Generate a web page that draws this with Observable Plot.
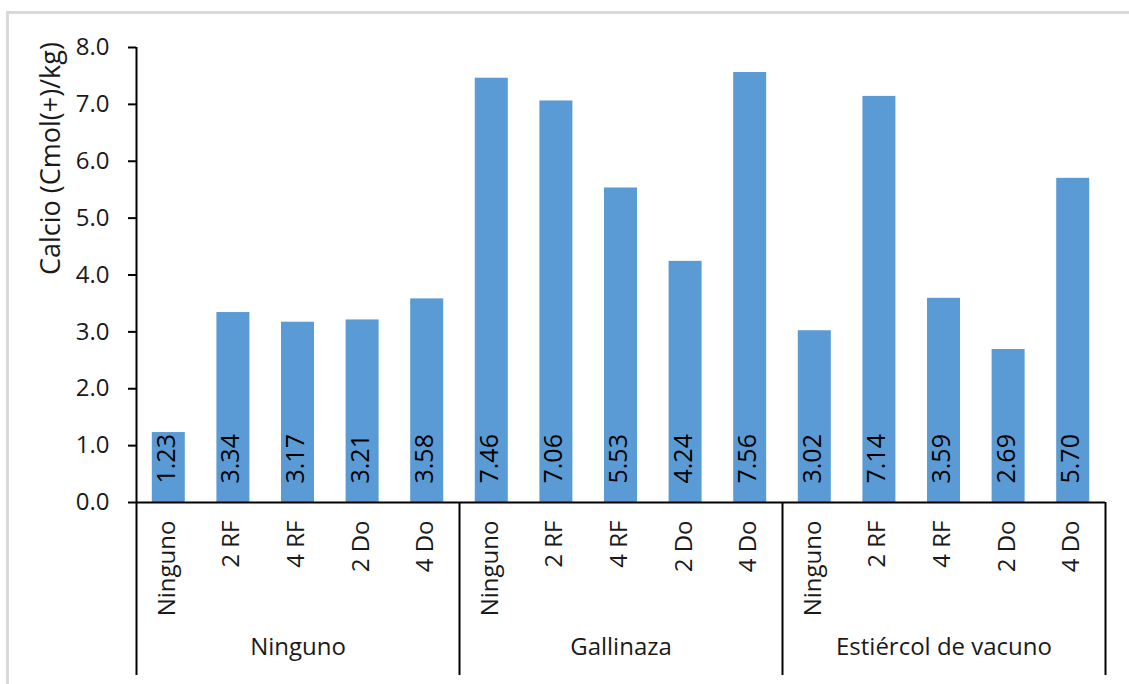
<!DOCTYPE html>
<html>
<head>
<meta charset="utf-8">
<script src="https://cdn.jsdelivr.net/npm/d3@7"></script>
<script src="https://cdn.jsdelivr.net/npm/@observablehq/plot@0.6"></script>
<style>
  html, body { margin: 0; padding: 0; background: #fff; overflow: hidden; }
  body { width: 1129px; height: 684px; position: relative; }
  .border { position: absolute; left: 6px; top: 11px; right: -10px; bottom: -10px;
            border-top: 3px solid #d9d9d9; border-left: 3px solid #d9d9d9; }
  #chart { position: absolute; left: 0; top: 0; }
</style>
</head>
<body>
<div class="border"></div>
<div id="chart"></div>
<script>
// Abono orgánico (outer categories) and treatment (inner categories)
const groups = ["Ninguno", "Gallinaza", "Estiércol de vacuno"];
const treatments = ["Ninguno", "2 RF", "4 RF", "2 Do", "4 Do"];

// Calcio, Cmol(+)/kg, per treatment within each group
const valuesNinguno = [1.23, 3.34, 3.17, 3.21, 3.58];
const valuesGallinaza = [7.46, 7.06, 5.53, 4.24, 7.56];
const valuesVacuno = [3.02, 7.14, 3.59, 2.69, 5.70];

const yTicks = [0, 1, 2, 3, 4, 5, 6, 7, 8];
const yLabel = "Calcio (Cmol(+)/kg)";

const seriesByGroup = [valuesNinguno, valuesGallinaza, valuesVacuno];
const nT = treatments.length;

// one row per column, positioned by its slot index along x
const rows = groups.flatMap((g, gi) =>
  treatments.map((t, ti) => ({group: g, treatment: t, value: seriesByGroup[gi][ti], i: gi * nT + ti}))
);
const groupRows = groups.map((g, gi) => ({group: g, start: gi * nT}));
const boundaries = d3.range(0, groups.length * nT + 1, nT);

const fmt = d3.format(".2f");
const ink = "#1a1a1a";

const chart = Plot.plot({
  width: 1129,
  height: 684,
  marginLeft: 136,
  marginRight: 24,
  marginTop: 47,
  marginBottom: 182,
  style: {fontFamily: "'Open Sans', sans-serif", fontSize: "24px", color: ink, background: "transparent", overflow: "visible"},
  x: {domain: [0, groups.length * nT], axis: null},
  y: {domain: [0, 8], axis: null},
  marks: [
    Plot.rectY(rows, {
      x1: d => d.i, x2: d => d.i + 1, y: "value",
      fill: "#5b9bd5", insetLeft: 15.8, insetRight: 15.8
    }),
    // values written at the base of each column
    Plot.text(rows, {
      x: d => d.i + 0.5, frameAnchor: "bottom", text: d => fmt(d.value),
      rotate: -90, textAnchor: "start", dx: 6, dy: -19, fontSize: 25, fill: "#000"
    }),
    Plot.axisY({
      ticks: yTicks, tickFormat: d3.format(".1f"), tickSize: 8, tickPadding: 19,
      strokeWidth: 2, stroke: "#000", fontSize: 24, fill: ink, label: null
    }),
    Plot.ruleX([0], {stroke: "#000", strokeWidth: 2}),
    Plot.ruleY([0], {stroke: "#000", strokeWidth: 2}),
    // group separators below the baseline
    Plot.ruleX(boundaries, {x: d => d, stroke: "#000", strokeWidth: 2, insetTop: 455, insetBottom: -173}),
    // inner category labels
    Plot.text(rows, {
      x: d => d.i + 0.5, frameAnchor: "bottom", text: "treatment",
      rotate: -90, textAnchor: "end", dx: 6, dy: 18, fontSize: 24, fill: ink
    }),
    // outer category labels
    Plot.text(groupRows, {
      x: d => d.start + nT / 2, frameAnchor: "bottom", text: "group",
      dy: 152, fontSize: 24, fill: ink
    }),
    Plot.text([yLabel], {
      frameAnchor: "left", text: d => d, rotate: -90, dx: -85, fontSize: 27, fill: ink
    })
  ]
});

document.getElementById("chart").appendChild(chart);
</script>
</body>
</html>
